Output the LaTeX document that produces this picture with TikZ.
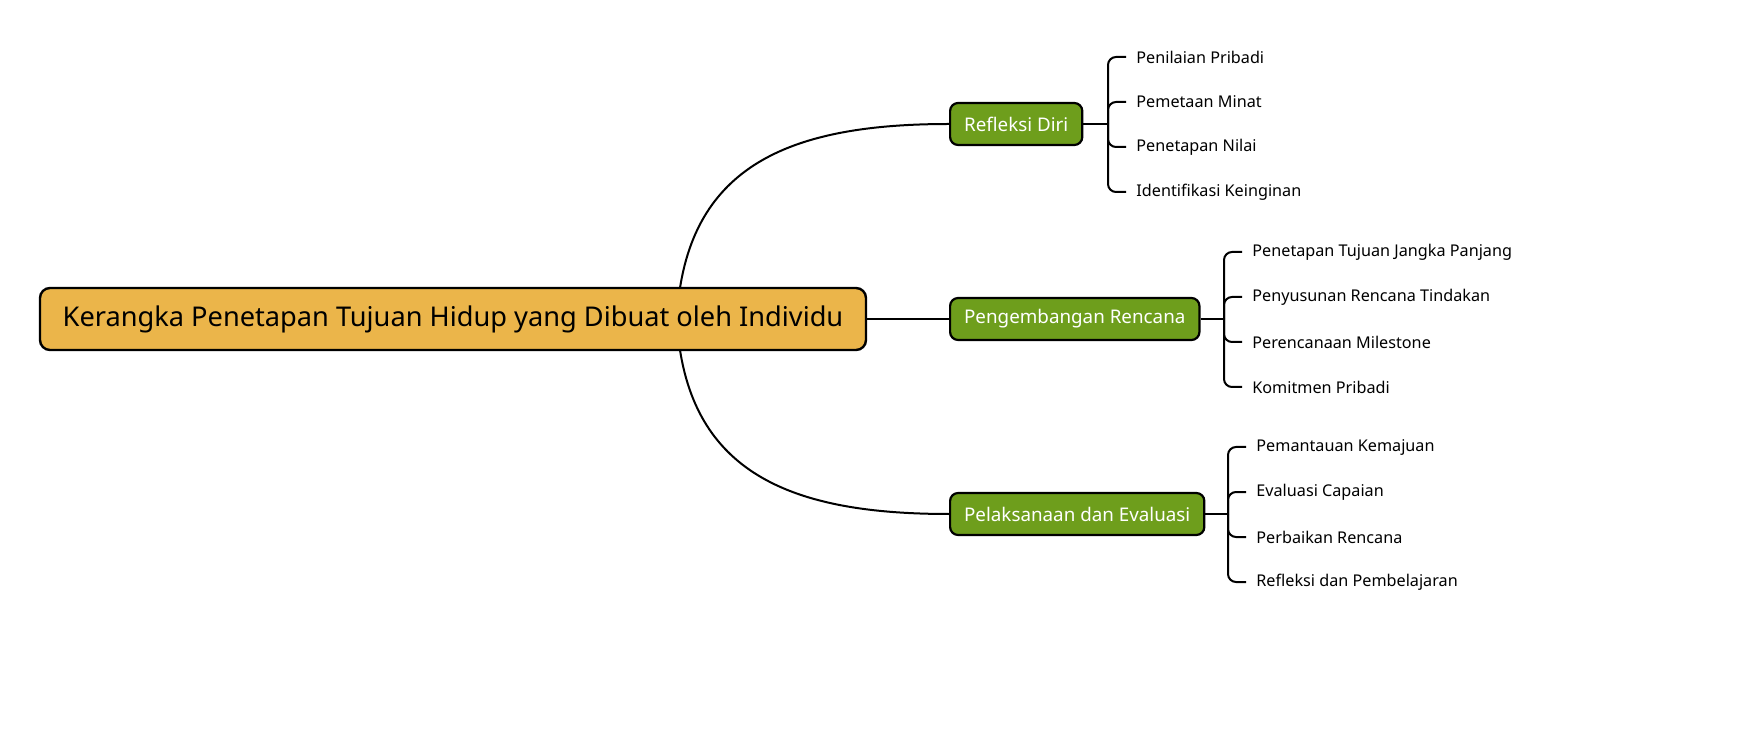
\documentclass[tikz,border=0pt]{standalone}
\usepackage{fontspec}
\setmainfont{Noto Sans}
\usetikzlibrary{positioning}
\definecolor{rootfill}{HTML}{EBB54A}
\definecolor{branchfill}{HTML}{6E9E1C}
\tikzset{
  rootbox/.style={draw=black, line width=1.2pt, fill=rootfill, rounded corners=5pt,
    minimum width=413pt, minimum height=31pt, font=\fontsize{13.6}{15}\selectfont},
  branchbox/.style={draw=black, line width=1.1pt, fill=branchfill, rounded corners=4pt,
    text=white, minimum height=21pt, inner xsep=7pt, font=\fontsize{9.4}{11}\selectfont},
  leaf/.style={anchor=west, inner sep=1pt, font=\fontsize{8.1}{9}\selectfont},
  link/.style={line width=1pt, draw=black}
}
\begin{document}
\begin{tikzpicture}[x=0.5pt, y=-0.5pt]
  \useasboundingbox (0,0) rectangle (1761,732);
  % root and branches
  \node[rootbox] (root) at (453,319) {Kerangka Penetapan Tujuan Hidup yang Dibuat oleh Individu};
  \node[branchbox, anchor=west] (b1) at (949,124) {Refleksi Diri};
  \node[branchbox, anchor=west] (b2) at (949,319) {Pengembangan Rencana};
  \node[branchbox, anchor=west] (b3) at (949,514) {Pelaksanaan dan Evaluasi};
  \coordinate (top) at (680,288);
  \coordinate (bot) at (680,350);
  \draw[link] (top) .. controls (700,160) and (800,124) .. (b1.west);
  \draw[link] (root.east) -- (b2.west);
  \draw[link] (bot) .. controls (700,478) and (800,514) .. (b3.west);
  % leaves
  \coordinate (j1) at (1108,124);
  \coordinate (j2) at (1224,319);
  \coordinate (j3) at (1228,514);
  \foreach \t [count=\i] in {Penilaian Pribadi, Pemetaan Minat, Penetapan Nilai, Identifikasi Keinginan}
    \node[leaf] (l1-\i) at (1134,{57+45*(\i-1)}) {\t};
  \foreach \t [count=\i] in {Penetapan Tujuan Jangka Panjang, Penyusunan Rencana Tindakan, Perencanaan Milestone, Komitmen Pribadi}
    \node[leaf] (l2-\i) at (1250,{252+45*(\i-1)}) {\t};
  \foreach \t [count=\i] in {Pemantauan Kemajuan, Evaluasi Capaian, Perbaikan Rencana, Refleksi dan Pembelajaran}
    \node[leaf] (l3-\i) at (1254,{447+45*(\i-1)}) {\t};
  \foreach \g in {1,2,3} {
    \draw[link] (b\g.east) -- (j\g);
    \foreach \i in {1,...,4}
      \draw[link, rounded corners=4pt] (j\g) |- ([xshift=-4pt]l\g-\i.west);
  }
\end{tikzpicture}
\end{document}
